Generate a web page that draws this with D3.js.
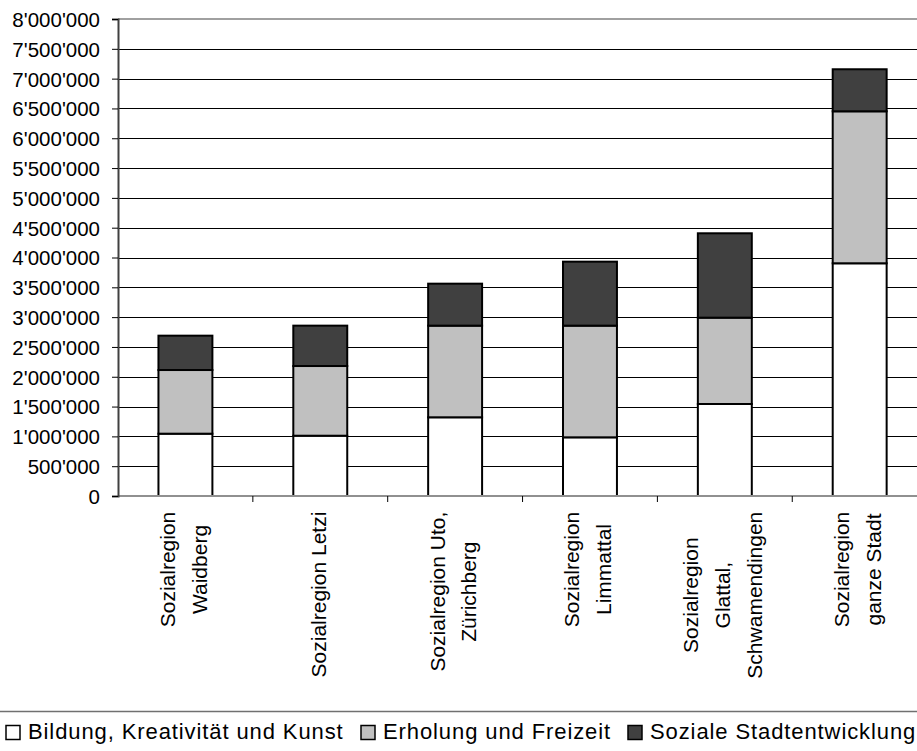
<!DOCTYPE html>
<html>
<head>
<meta charset="utf-8">
<script src="https://cdn.jsdelivr.net/npm/d3@7"></script>
<style>
  html, body { margin: 0; padding: 0; background: #fff; }
  svg { display: block; font-family: "Liberation Sans", Arial, sans-serif; }
</style>
</head>
<body>
<svg id="chart" width="917" height="751"></svg>
<script>
// Categories (each label split into its displayed lines)
const categories = [
  "Sozialregion Waidberg",
  "Sozialregion Letzi",
  "Sozialregion Uto, Zürichberg",
  "Sozialregion Limmattal",
  "Sozialregion Glattal, Schwamendingen",
  "Sozialregion ganze Stadt"
];
const categoryLines = [
  ["Sozialregion", "Waidberg"],
  ["Sozialregion Letzi"],
  ["Sozialregion Uto,", "Zürichberg"],
  ["Sozialregion", "Limmattal"],
  ["Sozialregion", "Glattal,", "Schwamendingen"],
  ["Sozialregion", "ganze Stadt"]
];

// Series values (stacked bottom to top)
const seriesNames = ["Bildung, Kreativität und Kunst", "Erholung und Freizeit", "Soziale Stadtentwicklung"];
const bildung  = [1045000, 1011000, 1320000,  984000, 1543000, 3903000];
const erholung = [1068000, 1169000, 1537000, 1873000, 1448000, 2549000];
const soziale  = [ 576000,  677000,  704000, 1073000, 1415000,  705000];
const seriesColors = ["#ffffff", "#c0c0c0", "#404040"];

// Y-axis ticks
const yTicks = [0, 500000, 1000000, 1500000, 2000000, 2500000, 3000000, 3500000,
                4000000, 4500000, 5000000, 5500000, 6000000, 6500000, 7000000, 7500000, 8000000];

const svg = d3.select("#chart");
const W = 917;

const plotLeft = 118, plotTop = 19, plotBottom = 496;
const step = 134.85;
const plotRight = plotLeft + step * categories.length;

const x = d3.scaleBand()
  .domain(categories)
  .range([plotLeft, plotRight])
  .paddingInner(0.6)
  .paddingOuter(0.3);

const y = d3.scaleLinear().domain([0, 8000000]).range([plotBottom, plotTop]);

const fmt = d3.formatLocale({ decimal: ".", thousands: "'", grouping: [3], currency: ["", ""] }).format(",");

// Gridlines
svg.append("g").selectAll("line")
  .data(yTicks.filter(t => t > 0 && t < 8000000))
  .join("line")
  .attr("x1", plotLeft).attr("x2", W)
  .attr("y1", d => Math.round(y(d)) + 0.5).attr("y2", d => Math.round(y(d)) + 0.5)
  .attr("stroke", "#000").attr("stroke-width", 1);

// Top border of plot area
svg.append("line")
  .attr("x1", plotLeft).attr("x2", W)
  .attr("y1", y(8000000)).attr("y2", y(8000000))
  .attr("stroke", "#a0a0a0").attr("stroke-width", 2);

// Stacked bars
const rows = categories.map((c, i) => ({
  cat: c,
  [seriesNames[0]]: bildung[i],
  [seriesNames[1]]: erholung[i],
  [seriesNames[2]]: soziale[i]
}));
const stacked = d3.stack().keys(seriesNames)(rows);

svg.append("g").selectAll("g")
  .data(stacked)
  .join("g")
  .attr("fill", (d, i) => seriesColors[i])
  .selectAll("rect")
  .data(d => d)
  .join("rect")
  .attr("x", d => x(d.data.cat))
  .attr("width", x.bandwidth())
  .attr("y", d => y(d[1]))
  .attr("height", d => y(d[0]) - y(d[1]))
  .attr("stroke", "#000")
  .attr("stroke-width", 2);

// X axis line and category ticks
svg.append("line")
  .attr("x1", plotLeft).attr("x2", W)
  .attr("y1", plotBottom).attr("y2", plotBottom)
  .attr("stroke", "#909090").attr("stroke-width", 2);
svg.append("g").selectAll("line")
  .data(d3.range(1, categories.length + 1))
  .join("line")
  .attr("x1", i => plotLeft + i * step).attr("x2", i => plotLeft + i * step)
  .attr("y1", plotBottom).attr("y2", plotBottom + 6)
  .attr("stroke", "#000").attr("stroke-width", 1);

// Y axis
const yAxis = d3.axisLeft(y).tickValues(yTicks).tickFormat(fmt).tickSize(6).tickPadding(12);
const yg = svg.append("g").attr("transform", `translate(${plotLeft},0)`).call(yAxis);
yg.select(".domain").attr("stroke", "#404040").attr("stroke-width", 2);
yg.selectAll(".tick line").attr("stroke", "#000");
yg.selectAll(".tick text")
  .attr("font-size", 20.5)
  .attr("font-family", "'Liberation Sans', Arial, sans-serif")
  .attr("fill", "#000")
  .attr("dy", "0.36em");

// Category labels (rotated, lines centred on the longest one)
const labelTop = 511.7, lineGap = 31.7, baseOffset = 5.3;
const lab = svg.append("g").attr("font-size", 21).attr("fill", "#000");
categoryLines.forEach((lines, i) => {
  const cx = x(categories[i]) + x.bandwidth() / 2;
  // measure the longest line
  const probe = lab.append("text").attr("visibility", "hidden");
  let maxLen = 0;
  lines.forEach(l => { probe.text(l); maxLen = Math.max(maxLen, probe.node().getComputedTextLength()); });
  probe.remove();
  const cy = labelTop + maxLen / 2;
  lines.forEach((l, j) => {
    const bx = cx + (j - (lines.length - 1) / 2) * lineGap + baseOffset;
    lab.append("text")
      .attr("transform", `translate(${bx},${cy}) rotate(-90)`)
      .attr("text-anchor", "middle")
      .text(l);
  });
});

// Legend
svg.append("line")
  .attr("x1", 0).attr("x2", W)
  .attr("y1", 711.5).attr("y2", 711.5)
  .attr("stroke", "#707070").attr("stroke-width", 1.5);

const legendX = [5, 360, 627];
const leg = svg.append("g").selectAll("g")
  .data(seriesNames)
  .join("g")
  .attr("transform", (d, i) => `translate(${legendX[i]},0)`);
leg.append("rect")
  .attr("x", 1).attr("y", 725.5).attr("width", 14).attr("height", 14)
  .attr("fill", (d, i) => seriesColors[i])
  .attr("stroke", "#000").attr("stroke-width", 1.5);
leg.append("text")
  .attr("x", 23).attr("y", 739)
  .attr("font-size", 22)
  .attr("letter-spacing", 0.9)
  .attr("fill", "#000")
  .text(d => d);
</script>
</body>
</html>
